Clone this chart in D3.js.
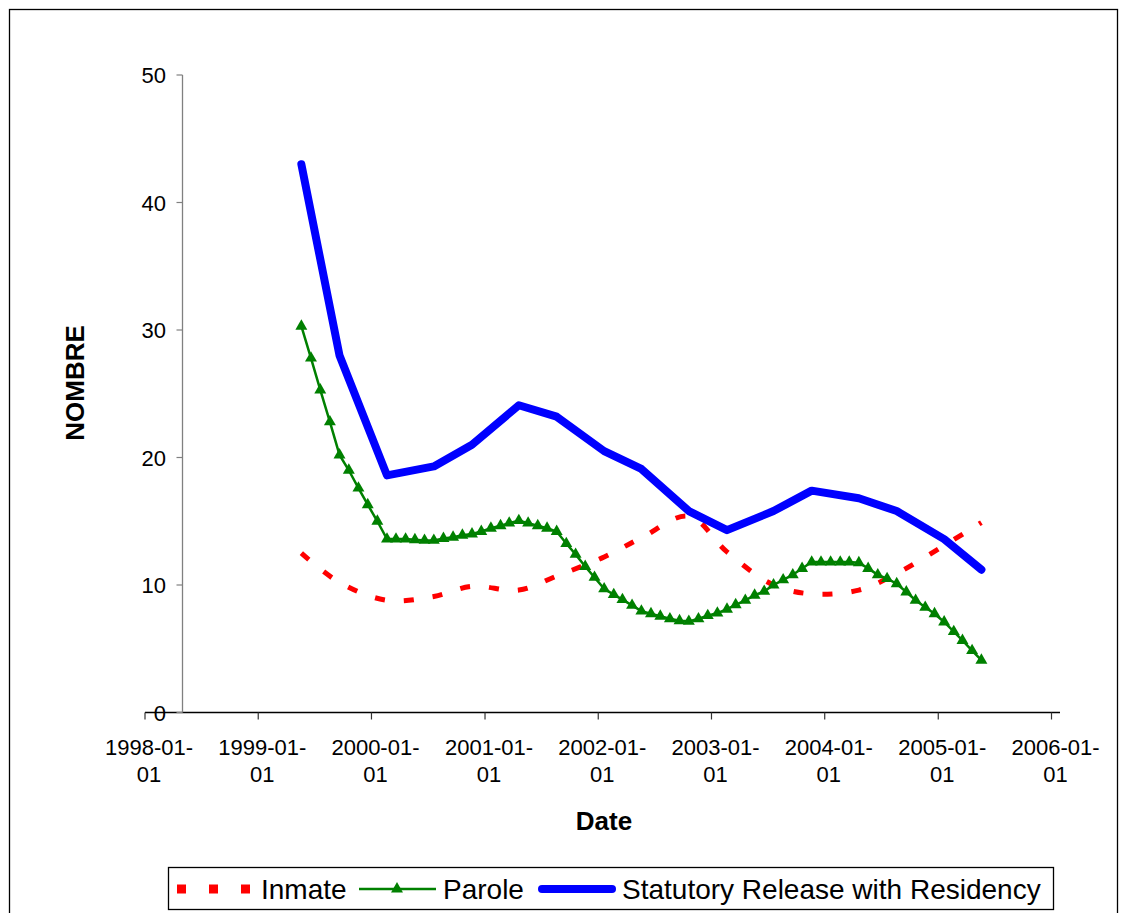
<!DOCTYPE html>
<html><head><meta charset="utf-8">
<script src="https://cdn.jsdelivr.net/npm/d3@7"></script>
<style>
html,body{margin:0;padding:0;background:#fff;}
svg{display:block;font-family:"Liberation Sans",Arial,sans-serif;}
</style></head>
<body>
<svg id="chart" width="1122" height="913"></svg>
<script>
// ---- data ----
const keyDates = ["1999-05-20","1999-09-20","2000-02-20","2000-07-20","2000-11-20","2001-04-20","2001-08-20","2002-01-20","2002-05-20","2002-10-20","2003-02-20","2003-07-20","2003-11-20","2004-04-20","2004-08-20","2005-01-20","2005-05-20"];
const inmate = [12.5,10.2,8.8,9.1,9.9,9.6,10.7,12.2,13.7,15.4,12.6,10.0,9.3,9.6,10.9,13.1,14.9];
const statutory = [43.0,28.0,18.6,19.3,21.0,24.1,23.2,20.5,19.1,15.8,14.3,15.8,17.4,16.8,15.8,13.6,11.2];

const paroleMonths = ["1999-05","1999-06","1999-07","1999-08","1999-09","1999-10","1999-11","1999-12",
"2000-01","2000-02","2000-03","2000-04","2000-05","2000-06","2000-07","2000-08","2000-09","2000-10","2000-11","2000-12",
"2001-01","2001-02","2001-03","2001-04","2001-05","2001-06","2001-07","2001-08","2001-09","2001-10","2001-11","2001-12",
"2002-01","2002-02","2002-03","2002-04","2002-05","2002-06","2002-07","2002-08","2002-09","2002-10","2002-11","2002-12",
"2003-01","2003-02","2003-03","2003-04","2003-05","2003-06","2003-07","2003-08","2003-09","2003-10","2003-11","2003-12",
"2004-01","2004-02","2004-03","2004-04","2004-05","2004-06","2004-07","2004-08","2004-09","2004-10","2004-11","2004-12",
"2005-01","2005-02","2005-03","2005-04","2005-05"];
const parole = [30.3,27.8,25.3,22.8,20.2,19.0,17.6,16.3,15.0,13.6,
13.6,13.6,13.55,13.5,13.5,13.65,13.75,13.9,14.0,14.2,
14.45,14.65,14.85,15.05,14.85,14.65,14.45,14.2,13.25,12.4,
11.45,10.6,9.7,9.25,8.85,8.4,7.95,7.75,7.55,7.35,
7.2,7.15,7.35,7.6,7.8,8.1,8.45,8.8,9.2,9.5,
10.0,10.4,10.8,11.3,11.8,11.8,11.8,11.8,11.8,11.75,
11.3,10.8,10.5,10.1,9.45,8.8,8.25,7.75,7.1,6.35,
5.65,4.85,4.1];

const xTickDates = ["1998-01-01","1999-01-01","2000-01-01","2001-01-01","2002-01-01","2003-01-01","2004-01-01","2005-01-01","2006-01-01"];
const yTicks = [0,10,20,30,40,50];
const seriesNames = ["Inmate","Parole","Statutory Release with Residency"];

// ---- chart ----
const parse = d3.timeParse("%Y-%m-%d");
const svg = d3.select("#chart");

svg.append("rect").attr("x",9.5).attr("y",9.5).attr("width",1108).attr("height",915)
  .attr("fill","none").attr("stroke","#000").attr("stroke-width",1.3);

const x = d3.scaleTime().domain([parse("1998-01-01"), parse("2006-01-01")]).range([145, 1051.5]);
const y = d3.scaleLinear().domain([0,50]).range([712.5, 75]);
const yAxisX = 182.5;

// x axis
const xAxisG = svg.append("g");
xAxisG.append("line").attr("x1",145).attr("x2",1060).attr("y1",y(0)).attr("y2",y(0))
  .attr("stroke","#000").attr("stroke-width",1.3);
xTickDates.forEach(s=>{
  const d = parse(s), xp = x(d);
  xAxisG.append("line").attr("x1",xp).attr("x2",xp).attr("y1",y(0)).attr("y2",y(0)+7)
    .attr("stroke","#333").attr("stroke-width",1.2);
  const t = xAxisG.append("text").attr("x",xp+4).attr("text-anchor","middle")
    .attr("font-size",22).attr("fill","#000");
  t.append("tspan").attr("x",xp+4).attr("y",755).text(s.slice(0,8));
  t.append("tspan").attr("x",xp+4).attr("y",782).text(s.slice(8));
});

// y axis
const yAxisG = svg.append("g");
yAxisG.append("line").attr("x1",yAxisX).attr("x2",yAxisX).attr("y1",y(50)).attr("y2",y(0))
  .attr("stroke","#808080").attr("stroke-width",1.3);
yTicks.forEach(v=>{
  yAxisG.append("line").attr("x1",yAxisX-6).attr("x2",yAxisX).attr("y1",y(v)).attr("y2",y(v))
    .attr("stroke","#808080").attr("stroke-width",1.2);
  yAxisG.append("text").attr("x",166).attr("y",y(v)+8).attr("text-anchor","end")
    .attr("font-size",22).attr("fill","#000").text(v);
});

// titles
svg.append("text").attr("x",604).attr("y",830).attr("text-anchor","middle")
  .attr("font-size",26).attr("font-weight","bold").text("Date");
svg.append("text").attr("transform","translate(84,383) rotate(-90)").attr("text-anchor","middle")
  .attr("font-size",26).attr("font-weight","bold").text("NOMBRE");

// series
const keyPts = keyDates.map((s,i)=>({d:parse(s), inm:inmate[i], st:statutory[i]}));
const parPts = paroleMonths.map((s,i)=>({d:parse(s+"-20"), v:parole[i]}));

svg.append("path").datum(keyPts)
  .attr("d", d3.line().x(p=>x(p.d)).y(p=>y(p.inm)).curve(d3.curveCatmullRom))
  .attr("fill","none").attr("stroke","#FF0000").attr("stroke-width",5)
  .attr("stroke-dasharray","10,19");

svg.append("path").datum(parPts)
  .attr("d", d3.line().x(p=>x(p.d)).y(p=>y(p.v)))
  .attr("fill","none").attr("stroke","#008000").attr("stroke-width",2.5);
const tri = d3.symbol().type(d3.symbolTriangle).size(62);
svg.append("g").selectAll("path").data(parPts).join("path")
  .attr("transform",p=>`translate(${x(p.d)},${y(p.v)})`).attr("d",tri).attr("fill","#008000");

svg.append("path").datum(keyPts)
  .attr("d", d3.line().x(p=>x(p.d)).y(p=>y(p.st)))
  .attr("fill","none").attr("stroke","#0000FF").attr("stroke-width",8)
  .attr("stroke-linejoin","round").attr("stroke-linecap","round");

// legend
const lg = svg.append("g");
lg.append("rect").attr("x",168.5).attr("y",867.5).attr("width",885).attr("height",42)
  .attr("fill","#fff").attr("stroke","#000").attr("stroke-width",1.3);
const ly = 889;
lg.append("line").attr("x1",177).attr("x2",253).attr("y1",ly).attr("y2",ly)
  .attr("stroke","#FF0000").attr("stroke-width",9).attr("stroke-dasharray","9,23");
lg.append("text").attr("x",261).attr("y",ly+10).attr("font-size",28).text(seriesNames[0]);
lg.append("line").attr("x1",359).attr("x2",436).attr("y1",ly).attr("y2",ly)
  .attr("stroke","#008000").attr("stroke-width",2.5);
lg.append("path").attr("transform",`translate(397,${ly})`).attr("d",tri).attr("fill","#008000");
lg.append("text").attr("x",443).attr("y",ly+10).attr("font-size",28).text(seriesNames[1]);
lg.append("line").attr("x1",542).attr("x2",612).attr("y1",ly).attr("y2",ly)
  .attr("stroke","#0000FF").attr("stroke-width",8).attr("stroke-linecap","round");
lg.append("text").attr("x",622).attr("y",ly+10).attr("font-size",28).text(seriesNames[2]);
</script>
</body></html>
